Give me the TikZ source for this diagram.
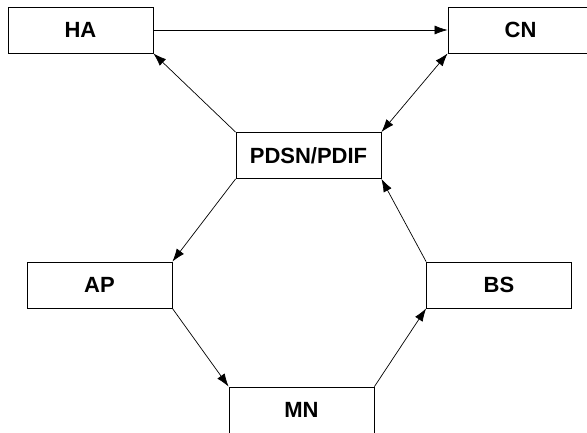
\documentclass[tikz,border=0pt]{standalone}
\usepackage{fontspec}
\setmainfont{Liberation Sans}
\usetikzlibrary{arrows.meta}
\tikzset{entity box/.style={draw=black, line width=0.8pt, minimum width=145pt,
		minimum height=46pt, inner sep=0pt, font=\fontsize{22}{26}\selectfont\bfseries}}
\tikzset{link/.style={line width=0.7pt}}

\begin{document}
\begin{tikzpicture}[x=1pt, y=-1pt, >={Latex[length=13pt,width=9pt]}]
	\useasboundingbox (0,0) rectangle (587,432);
	\node[entity box] at (80.5,30)    (ha)   {HA};
	\node[entity box] at (520.5,30)   (cn)   {CN};
	\node[entity box] at (308.5,155.5) (pdsn) {PDSN/PDIF};
	\node[entity box] at (99.5,285)   (ap)   {AP};
	\node[entity box] at (499,285)    (bs)   {BS};
	\node[entity box] at (301.5,410)  (mn)   {MN};
	\path (ha) edge[link, ->] (cn);
	\path (pdsn.north west) edge[link, ->] (ha.south east);
	\path (pdsn.north east) edge[link, <->] (cn.south west);
	\path (pdsn.south west) edge[link, ->] (ap.north east);
	\path (ap.south east) edge[link, ->] (mn.north west);
	\path (mn.north east) edge[link, ->] (bs.south west);
	\path (bs.north west) edge[link, ->] (pdsn.south east);
\end{tikzpicture}
\end{document}
